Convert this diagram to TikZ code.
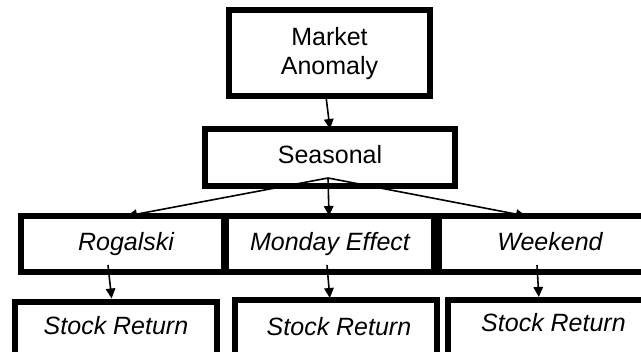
\documentclass[tikz,border=0pt]{standalone}
\usepackage{fontspec}
\setmainfont{Liberation Sans}
\usetikzlibrary{arrows.meta,calc}
\begin{document}
\begin{tikzpicture}[x=1pt,y=-1pt,
  box/.style={draw=black,line width=6pt,inner sep=0pt,outer sep=0pt,
    font=\fontsize{25}{29}\selectfont,text height=18pt,text depth=5pt},
  ibox/.style={box,font=\fontsize{25}{29}\selectfont\itshape},
  arr/.style={line width=1.6pt,-{Triangle[length=10pt,width=9.5pt]}}]
\useasboundingbox (0,0) rectangle (641,352);
\clip (0,0) rectangle (641,352);
\fill[white] (0,0) rectangle (641,352);
% boxes
\node[box,minimum width=201pt,minimum height=86.5pt,align=center,text height=,text depth=] (ma) at (329.5,53.25) {Market\\Anomaly};
\node[box,minimum width=250pt,minimum height=57pt] (sea) at (330,157.5) {Seasonal};
\node[ibox,minimum width=203pt,minimum height=56pt] (rog) at (122.5,244) {\hspace*{7pt}Rogalski};
\node[ibox,minimum width=208pt,minimum height=56pt] (mon) at (330,244) {Monday Effect};
\node[ibox,minimum width=222pt,minimum height=56pt] (wk) at (550,244) {Weekend};
\node[ibox,minimum width=202pt,minimum height=53pt] (sr1) at (116,328.5) {Stock Return};
\node[ibox,minimum width=202pt,minimum height=59pt] (sr2) at (336,329.5) {\hspace*{6pt}Stock Return};
\node[ibox,minimum width=211pt,minimum height=56.4pt,text depth=11pt] (sr3) at (553.5,328.2) {Stock Return};
% connectors
\coordinate (apex) at ($(sea.south)+(-2,-8)$);
\draw[arr] ($(ma.south)+(-3.5,0)$) -- (sea.north);
\draw[arr] (apex) -- ($(rog.north)+(4.5,0)$);
\draw[arr] (apex) -- ($(mon.north)+(-1,0)$);
\draw[arr] (apex) -- ($(wk.north)+(-24,0)$);
\draw[arr,shorten >=3.5pt] ($(rog.south)+(-14.5,-7)$) -- ($(sr1.north)+(-4,0)$);
\draw[arr,shorten >=2pt] ($(mon.south)+(-3,-7)$) -- ($(sr2.north)+(-6,0)$);
\draw[arr,shorten >=3pt] ($(wk.south)+(-13,-7)$) -- ($(sr3.north)+(-14.5,0)$);
\end{tikzpicture}
\end{document}
